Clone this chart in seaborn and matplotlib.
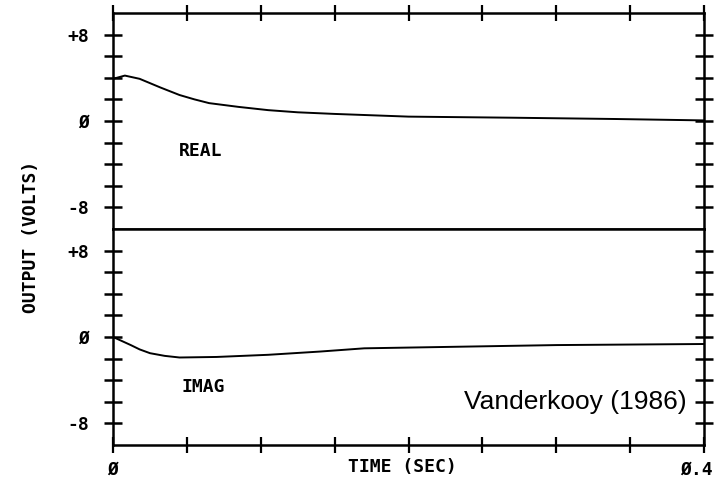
import matplotlib
matplotlib.use("Agg")
import matplotlib.pyplot as plt
import matplotlib.transforms as mtransforms
import numpy as np
import pandas as pd
import seaborn as sns

# ---- data ----
t_real = [0.0, 0.008, 0.018, 0.032, 0.045, 0.055, 0.065, 0.085, 0.105, 0.125, 0.15, 0.17, 0.2, 0.27, 0.34, 0.4]
v_real = [3.9, 4.2, 3.9, 3.1, 2.4, 2.0, 1.65, 1.3, 1.0, 0.8, 0.65, 0.55, 0.4, 0.3, 0.18, 0.05]

t_imag = [0.0, 0.012, 0.018, 0.025, 0.035, 0.045, 0.07, 0.105, 0.14, 0.17, 0.235, 0.3, 0.4]
v_imag = [0.0, -0.75, -1.15, -1.5, -1.75, -1.9, -1.85, -1.65, -1.35, -1.05, -0.9, -0.75, -0.65]

x_ticks = [0.0, 0.05, 0.10, 0.15, 0.20, 0.25, 0.30, 0.35, 0.40]
x_tick_labels = ["Ø", "", "", "", "", "", "", "", "Ø.4"]
y_ticks = [-8, -6, -4, -2, 0, 2, 4, 6, 8]
y_tick_labels = ["-8", "", "", "", "Ø", "", "", "", "+8"]

panel_labels = ["REAL", "IMAG"]
x_label = "TIME (SEC)"
y_label = "OUTPUT (VOLTS)"
credit = "Vanderkooy (1986)"

sns.set_theme(style="ticks")
plt.rcParams["font.family"] = ["DejaVu Sans Mono", "DejaVu Sans"]
plt.rcParams.update({"text.color": "black", "axes.labelcolor": "black",
                     "xtick.color": "black", "ytick.color": "black",
                     "axes.edgecolor": "black"})

mono = dict(family="DejaVu Sans Mono", weight="bold", size=13, color="black")

fig, (ax1, ax2) = plt.subplots(2, 1, sharex=True, figsize=(7.2, 4.79), dpi=100)
fig.patch.set_facecolor("white")
fig.subplots_adjust(left=0.157, right=0.978, top=0.973, bottom=0.071, hspace=0)

df_r = pd.DataFrame({"t": t_real, "v": v_real})
df_i = pd.DataFrame({"t": t_imag, "v": v_imag})
sns.lineplot(data=df_r, x="t", y="v", ax=ax1, color="black", lw=1.4)
sns.lineplot(data=df_i, x="t", y="v", ax=ax2, color="black", lw=1.4)

for ax in (ax1, ax2):
    ax.set_xlim(0, 0.4)
    ax.set_ylim(-10, 10)
    ax.set_facecolor("white")
    ax.set_xlabel("")
    ax.set_ylabel("")
    for sp in ax.spines.values():
        sp.set_visible(True)
        sp.set_linewidth(1.8)
        sp.set_color("black")
    ax.set_yticks(y_ticks)
    ax.set_yticklabels(y_tick_labels, fontdict=mono)
    ax.tick_params(axis="y", direction="inout", left=True, right=True,
                   length=13, width=1.8, pad=11, colors="black")
    ax.set_xticks(x_ticks)

ax1.tick_params(axis="x", direction="inout", top=True, bottom=False,
                labelbottom=False, length=11, width=1.6)
ax2.tick_params(axis="x", direction="inout", top=False, bottom=True,
                labelbottom=True, length=11, width=1.6, pad=6)
labels = ax2.set_xticklabels(x_tick_labels, fontdict=mono)
last = labels[-1]
last.set_ha("right")
last.set_transform(last.get_transform() +
                   mtransforms.ScaledTranslation(9 / 100, 0, fig.dpi_scale_trans))

ax1.text(0.059, -2.75, panel_labels[0], ha="center", va="center", fontdict=mono)
ax2.text(0.061, -4.6, panel_labels[1], ha="center", va="center", fontdict=mono)

ax2.set_xlabel(x_label, fontdict=mono)
ax2.xaxis.set_label_coords(0.49, -0.10)
ax2.xaxis.label.set_va("center")

fig.text(31 / 720, 1 - 237 / 479, y_label, rotation=90, ha="center", va="center",
         fontdict=mono)

fig.text(687 / 720, 1 - 402 / 479, credit, ha="right", va="center",
         family="Liberation Sans", size=19, color="black")

fig.savefig("out.png", dpi=100, facecolor="white")
